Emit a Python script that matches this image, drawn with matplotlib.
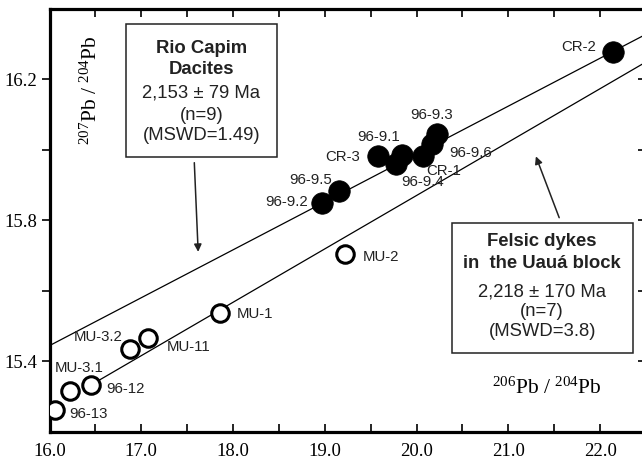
import numpy as np
import matplotlib
matplotlib.use("Agg")
import matplotlib.pyplot as plt
from matplotlib.patches import Rectangle

plt.rcParams['font.family'] = ['Liberation Sans', 'DejaVu Sans']
plt.rcParams['mathtext.fontset'] = 'custom'
plt.rcParams['mathtext.rm'] = 'Liberation Serif'
plt.rcParams['mathtext.it'] = 'Liberation Serif:italic'

# Rio Capim dacites (filled)
rc_names = ["CR-2", "96-9.3", "96-9.6", "CR-1", "96-9.1", "96-9.4", "CR-3", "96-9.5", "96-9.2"]
rc_x = [22.14, 20.22, 20.17, 20.07, 19.84, 19.78, 19.58, 19.15, 18.97]
rc_y = [16.277, 16.044, 16.016, 15.982, 15.987, 15.959, 15.982, 15.883, 15.850]
# label offsets (points) from marker
rc_off = [(-25, 3.7), (-4, 13.7), (27.6, -6.1), (14.9, -10.3), (-17, 12.6),
          (18.6, -12.6), (-25.8, -0.6), (-20.4, 8.4), (-25.3, 0.6)]

# Felsic dykes, Uaua block (open)
mu_names = ["MU-2", "MU-1", "MU-11", "MU-3.2", "96-12", "MU-3.1", "96-13"]
mu_x = [19.22, 17.86, 17.07, 16.88, 16.45, 16.22, 16.06]
mu_y = [15.704, 15.537, 15.468, 15.436, 15.332, 15.316, 15.262]
mu_off = [(25.9, -1.8), (25.2, -0.7), (29.3, -6.6), (-23, 8.5), (24.8, -2.2),
          (6.5, 16.3), (23.8, -3.1)]

# isochron lines: (x0, y0, slope, x_start)
rc_line = (16.0, 15.445, 0.1359, 16.0)
mu_line = (16.0, 15.265, 0.1515, 16.45)

xlim = (16.0, 22.5)
ylim = (15.2, 16.4)

fig = plt.figure(figsize=(6.42, 4.62), dpi=100)
ax = fig.add_axes([49.5 / 642, 1 - 432 / 462, 596.5 / 642, 423 / 462])
ax.set_xlim(*xlim)
ax.set_ylim(*ylim)

for (x0, y0, s, xs) in [rc_line, mu_line]:
    xx = np.array([xs, xlim[1]])
    ax.plot(xx, y0 + s * (xx - x0), color='black', lw=0.9, zorder=1, clip_on=True)

ax.plot(rc_x, rc_y, 'o', ms=15.5, mfc='black', mec='black', mew=0.5, zorder=3)
ax.plot(mu_x, mu_y, 'o', ms=12.6, mfc='white', mec='black', mew=2.2, zorder=3)

for n, x, y, (dx, dy) in zip(rc_names + mu_names, rc_x + mu_x, rc_y + mu_y, rc_off + mu_off):
    ax.annotate(n, (x, y), xytext=(dx, dy), textcoords='offset points',
                ha='center', va='center', fontsize=10.8, color='#222222', zorder=4)

# spines / ticks
for sp in ['left', 'top', 'bottom']:
    ax.spines[sp].set_linewidth(2.3)
ax.spines['right'].set_linewidth(1.2)
ax.set_xticks(np.arange(16.0, 22.01, 0.5))
ax.set_xticklabels([f"{v:.1f}" if abs(v - round(v)) < 1e-6 else "" for v in np.arange(16.0, 22.01, 0.5)])
yt = [15.4, 15.6, 15.8, 16.0, 16.2]
ax.set_yticks(yt)
ax.set_yticklabels(['15.4', '', '15.8', '', '16.2'])
ax.tick_params(axis='x', which='both', direction='in', top=True, length=6, width=1.2,
               labelsize=13.5, pad=8)
ax.tick_params(axis='y', which='both', direction='out', length=6, width=1.2,
               labelsize=13.5, pad=3)
for lab in ax.get_xticklabels() + ax.get_yticklabels():
    lab.set_family('Liberation Serif')
# right-side inward ticks
axr = ax.twinx()
axr.set_ylim(*ylim)
axr.set_yticks(yt)
axr.tick_params(axis='y', direction='in', length=6, width=1.2, labelright=False)
for sp in axr.spines.values():
    sp.set_visible(False)

# axis labels
ax.text(0.8335, 0.104, r'$^{206}$Pb / $^{204}$Pb', transform=ax.transAxes,
        ha='center', va='center', fontsize=15.5, family='Liberation Serif')
ax.text(0.0705, 0.8085, r'$^{207}$Pb / $^{204}$Pb', transform=ax.transAxes,
        ha='center', va='center', fontsize=15.5, family='Liberation Serif', rotation=90)

# boxes
def box(l, b, r, t, lines, ys, cx):
    ax.add_patch(Rectangle((l, b), r - l, t - b, transform=ax.transAxes, fill=True,
                           fc='white', ec='#222222', lw=1.1, zorder=5))
    for (txt, bold), y in zip(lines, ys):
        ax.text(cx, y, txt, transform=ax.transAxes, ha='center', va='center',
                fontsize=13.3, fontweight='bold' if bold else 'normal',
                color='#222222', zorder=6)

def ay(py):
    return (432 - py) / 423

box(0.1283, 0.650, 0.3814, 0.9645,
    [("Rio Capim", True), ("Dacites", True), ("2,153 \u00b1 79 Ma", False),
     ("(n=9)", False), ("(MSWD=1.49)", False)],
    [ay(48.3), ay(69.6), ay(93.3), ay(115), ay(135.5)], 0.2548)
box(0.6743, 0.186, 0.9777, 0.4934,
    [("Felsic dykes", True), ("in  the Uau\u00e1 block", True), ("2,218 \u00b1 170 Ma", False),
     ("(n=7)", False), ("(MSWD=3.8)", False)],
    [ay(241.7), ay(263.3), ay(291.7), ay(311.7), ay(331.7)], 0.826)

# arrows
ax.annotate('', xy=(17.62, 15.711), xytext=(17.578, 15.964),
            arrowprops=dict(arrowstyle='-|>', color='#222222', lw=1.1, mutation_scale=11,
                            shrinkA=0, shrinkB=0))
ax.annotate('', xy=(21.30, 15.982), xytext=(21.554, 15.808),
            arrowprops=dict(arrowstyle='-|>', color='#222222', lw=1.1, mutation_scale=11,
                            shrinkA=0, shrinkB=0))

fig.savefig("out.png", dpi=100)
